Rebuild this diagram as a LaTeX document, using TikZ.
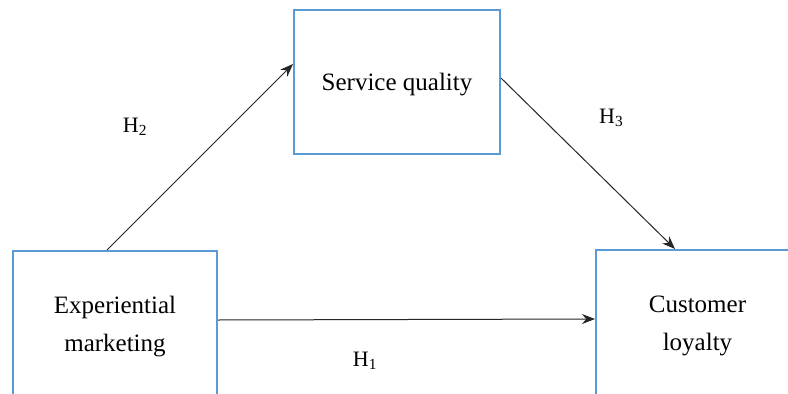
\documentclass[tikz,border=0pt]{standalone}
\usepackage{fontspec}
\setmainfont{Liberation Serif}
\usetikzlibrary{arrows.meta,calc}
\definecolor{boxblue}{HTML}{5B9BD5}
\tikzset{
  varbox/.style={draw=boxblue, line width=2pt, fill=white, align=center,
    inner sep=0pt, font=\fontsize{25}{38}\selectfont},
  link/.style={draw=black!85, line width=1pt, -{Stealth[length=13pt,width=10pt]}},
  hlabel/.style={anchor=base west, inner sep=0pt, font=\fontsize{22}{26}\selectfont}
}
\begin{document}
\begin{tikzpicture}[x=1pt,y=-1pt]
\useasboundingbox (0,0) rectangle (788,394);
\clip (0,0) rectangle (788,394);
\fill[white] (0,0) rectangle (788,394);
\node[varbox, minimum width=206pt, minimum height=144pt, text height=18.4pt, text depth=0pt] (sq) at (397,81.5) {Service quality};
\node[varbox, minimum width=204pt, minimum height=151pt] (em) at (115,326.5) {Experiential\\marketing};
\node[varbox, minimum width=203pt, minimum height=152pt] (cl) at (697.5,326) {Customer\\loyalty};
\draw[link] ([xshift=-8pt]em.north) -- ([yshift=17.5pt]sq.west);
\draw[link] ([yshift=3.5pt]sq.east) -- ([xshift=-22.5pt]cl.north);
\draw[link] ([yshift=6.5pt]em.east) -- ([yshift=7pt]cl.west);
\node[hlabel] (h2) at (122.7,132) {H\textsubscript{2}};
\node[hlabel] (h3) at (599,123) {H\textsubscript{3}};
\node[hlabel] (h1) at (352.7,366.7) {H\textsubscript{1}};
\end{tikzpicture}
\end{document}
